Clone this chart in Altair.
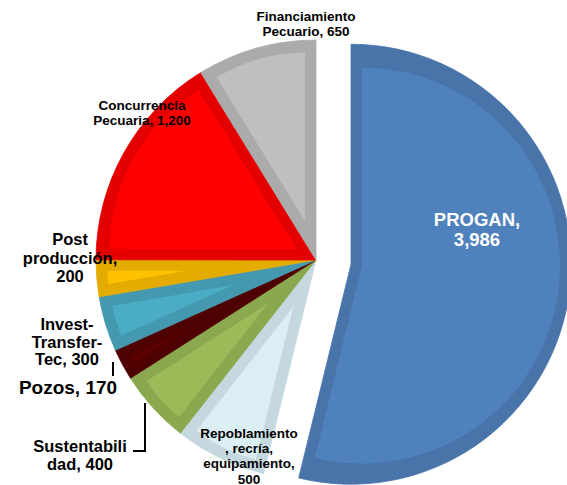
import altair as alt
import pandas as pd

# ---- data (clockwise from 12 o'clock) ----
categories = ["PROGAN", "Repoblamiento, recría, equipamiento", "Sustentabilidad",
              "Pozos", "Invest-Transfer-Tec", "Post producción",
              "Concurrencia Pecuaria", "Financiamiento Pecuario"]
values = [3986, 500, 400, 170, 300, 200, 1200, 650]
label_texts = ["PROGAN,\n3,986", "Repoblamiento\n, recría,\nequipamiento,\n500",
               "Sustentabili\ndad, 400", "Pozos, 170", "Invest-\nTransfer-\nTec, 300",
               "Post\nproducción,\n200", "Concurrencia\nPecuaria, 1,200",
               "Financiamiento\nPecuario, 650"]

# ---- styles / layout ----
light_colors = ["#4F81BD", "#DBEEF3", "#9BBB59", "#5E0000", "#4BACC6", "#FFC000", "#FF0000", "#BFBFBF"]
dark_colors = ["#4874AA", "#C5D8DF", "#8AA84E", "#4F0000", "#4499B1", "#E5AC00", "#E50000", "#ABABAB"]
explode = [35.3, 0, 0, 0, 0, 0, 0, 0]
label_x = [477, 249, 80, 68, 67, 70, 142, 306]
label_y = [220, 434, 447, 388, 325, 240, 106, 17]
label_size = [18.5, 13.5, 16.5, 19, 16.5, 16.5, 13.5, 13.5]
label_lh = [20, 15.2, 18, 18, 17.5, 18.5, 14.5, 15]
label_color = ["white", "black", "black", "black", "black", "black", "black", "black"]

CX, CY, R, INSET = 316, 260, 220, 11
W, H = 567, 485

df = pd.DataFrame({"cat": categories, "value": values, "order": range(len(values)),
                   "light": light_colors, "dark": dark_colors, "explode": explode})

base = (alt.Chart(df)
        .transform_joinaggregate(total="sum(value)")
        .transform_window(cum="sum(value)", sort=[alt.SortField("order")],
                          frame=[None, 0])
        .transform_calculate(
            a0="2*PI*(datum.cum - datum.value)/datum.total",
            a1="2*PI*datum.cum/datum.total")
        .transform_calculate(
            mid="(datum.a0 + datum.a1)/2",
            half="(datum.a1 - datum.a0)/2")
        .transform_calculate(
            cx=f"{CX} + datum.explode*sin(datum.mid)",
            cy=f"{CY} - datum.explode*cos(datum.mid)",
            d=f"{INSET}/max(sin(min(datum.half, PI/2)), 0.01)")
        .transform_calculate(
            lx="datum.cx + datum.d*sin(datum.mid)",
            ly="datum.cy - datum.d*cos(datum.mid)",
            lr=f"max({R} - {INSET} - datum.d, 0)")
        )

outer = base.mark_arc(radius=R, strokeWidth=0.8).encode(
    theta=alt.Theta("a0:Q", scale=None),
    theta2="a1:Q",
    x=alt.X("cx:Q", scale=None),
    y=alt.Y("cy:Q", scale=None),
    color=alt.Color("dark:N", scale=None),
    stroke=alt.Stroke("dark:N", scale=None),
)

inner = base.mark_arc().encode(
    theta=alt.Theta("a0:Q", scale=None),
    theta2="a1:Q",
    x=alt.X("lx:Q", scale=None),
    y=alt.Y("ly:Q", scale=None),
    radius=alt.Radius("lr:Q", scale=None),
    color=alt.Color("light:N", scale=None),
)

# labels
ldf = pd.DataFrame({"text": label_texts, "x": label_x, "y": label_y})
text_layers = []
for i in range(len(ldf)):
    text_layers.append(
        alt.Chart(ldf.iloc[[i]]).mark_text(
            font="Liberation Sans", fontWeight="bold", align="center",
            baseline="middle", lineBreak="\n", fontSize=float(label_size[i]),
            lineHeight=float(label_lh[i]), color=label_color[i]
        ).encode(x=alt.X("x:Q", scale=None), y=alt.Y("y:Q", scale=None),
                 text="text:N"))

# leader lines (positions)
lead_group = ["pozos", "pozos", "sust", "sust", "sust"]
lead_x = [113, 113, 145, 145, 133]
lead_y = [362, 376, 403, 451, 451]
lead_ord = [0, 1, 0, 1, 2]
lead_df = pd.DataFrame({"g": lead_group, "x": lead_x, "y": lead_y, "o": lead_ord})
leaders = alt.Chart(lead_df).mark_line(color="black", strokeWidth=2).encode(
    x=alt.X("x:Q", scale=None), y=alt.Y("y:Q", scale=None),
    detail="g:N", order="o:Q")

chart = alt.layer(outer, inner, leaders, *text_layers).properties(
    width=W, height=H, padding=0, autosize="none"
).configure_view(stroke=None)

chart.save("out.html", embed_options={"renderer": "svg", "actions": False})
